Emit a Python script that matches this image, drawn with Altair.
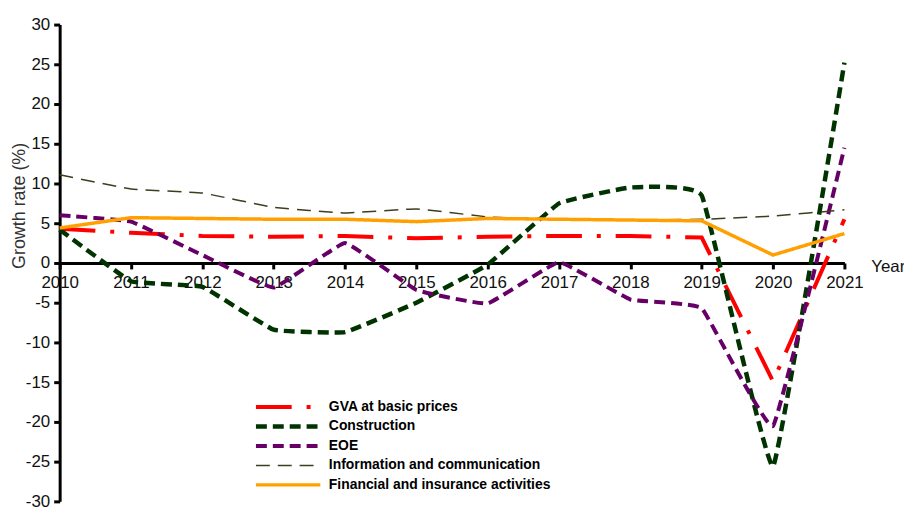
import altair as alt
import pandas as pd

years = list(range(2010, 2022))
series_names = ["GVA at basic prices", "Construction", "EOE",
                "Information and communication", "Financial and insurance activities"]
gva = [4.3, 3.8, 3.4, 3.3, 3.4, 3.1, 3.3, 3.4, 3.4, 3.2, -14.9, 5.5]
construction = [4.2, -2.3, -3.0, -8.4, -8.7, -5.0, -0.2, 7.5, 9.5, 8.5, -25.6, 25.2]
eoe = [6.0, 5.2, 1.0, -3.1, 2.5, -3.4, -5.1, 0.1, -4.6, -5.7, -20.5, 14.5]
info = [11.1, 9.3, 8.8, 7.0, 6.3, 6.8, 5.8, 5.5, 5.4, 5.5, 5.9, 6.7]
financial = [4.4, 5.7, 5.6, 5.5, 5.5, 5.2, 5.6, 5.5, 5.4, 5.3, 1.0, 3.7]
y_ticks = list(range(-30, 31, 5))

colors = ["#FF0000", "#003300", "#660066", "#3d3d1f", "#FFA000"]
dashes = [[36, 15, 4, 15], [11, 6], [11, 6], [14, 8], [1, 0]]
widths = [4, 4.5, 4, 1.5, 3.5]

rows = []
for name, vals in zip(series_names, [gva, construction, eoe, info, financial]):
    for y, v in zip(years, vals):
        rows.append({"Year": y, "Value": v, "Series": name})
df = pd.DataFrame(rows)

FONT = "Liberation Sans"

x_enc = alt.X("Year:Q",
              scale=alt.Scale(domain=[2010, 2021], nice=False, zero=False),
              axis=alt.Axis(values=years, format="d", title=None, offset=-240,
                            labelFontSize=17, labelFont=FONT, labelColor="#111",
                            domainColor="black", domainWidth=3, tickColor="black",
                            tickWidth=3, tickSize=6, labelPadding=6, grid=False,
                            labelFlush=False, labelOverlap=False))
y_enc = alt.Y("Value:Q",
              scale=alt.Scale(domain=[-30, 30], nice=False),
              axis=alt.Axis(values=y_ticks, title="Growth rate (%)", grid=False,
                            labelExpr="toString(datum.value)", labelOverlap=False,
                            labelFontSize=17, labelFont=FONT, labelColor="#111",
                            domainColor="black", domainWidth=3, tickColor="black",
                            tickWidth=3, tickSize=6, labelPadding=4,
                            titleFont=FONT, titleFontSize=18, titleFontWeight="normal",
                            titleColor="#333", titleX=-40, titleY=182,
                            titleAlign="center", titleBaseline="middle"))

color_enc = alt.Color("Series:N", scale=alt.Scale(domain=series_names, range=colors),
                      sort=series_names,
                      legend=alt.Legend(title=None, orient="none", legendX=195, legendY=377,
                                        symbolType="stroke", symbolSize=4200,
                                        labelFontSize=14, labelFontWeight="bold",
                                        labelFont=FONT, labelColor="black", labelLimit=500,
                                        clipHeight=16, rowPadding=3.6, labelOffset=6))
dash_enc = alt.StrokeDash("Series:N",
                          scale=alt.Scale(type="ordinal", domain=series_names, range=dashes),
                          sort=series_names, legend=None)
width_enc = alt.StrokeWidth("Series:N",
                            scale=alt.Scale(type="ordinal", domain=series_names, range=widths),
                            sort=series_names, legend=None)

base = alt.Chart(df).encode(x=x_enc, y=y_enc, color=color_enc,
                            strokeDash=dash_enc, strokeWidth=width_enc)

smooth_names = ["Construction", "EOE", "Information and communication"]
gva_layer = base.transform_filter(alt.datum.Series == "GVA at basic prices").mark_line(interpolate="linear")
smooth_layer = base.transform_filter(
    alt.FieldOneOfPredicate(field="Series", oneOf=smooth_names)).mark_line(
    interpolate="cardinal", tension=0.75)
fin_layer = base.transform_filter(
    alt.datum.Series == "Financial and insurance activities").mark_line(interpolate="linear")

label_df = pd.DataFrame({"Year": [2021], "Value": [0], "t": ["Year"]})
year_label = alt.Chart(label_df).mark_text(
    align="left", baseline="middle", dx=27, dy=4, fontSize=17, font=FONT, color="#111"
).encode(x=x_enc, y=y_enc, text="t:N")

chart = alt.layer(gva_layer, smooth_layer, fin_layer, year_label).properties(
    width=790, height=480,
    autosize=alt.AutoSizeParams(type="none"),
    padding={"left": 52, "top": 15, "right": 60, "bottom": 5},
).configure_view(stroke=None)

chart.save("out.html", embed_options={"renderer": "svg", "actions": False})
